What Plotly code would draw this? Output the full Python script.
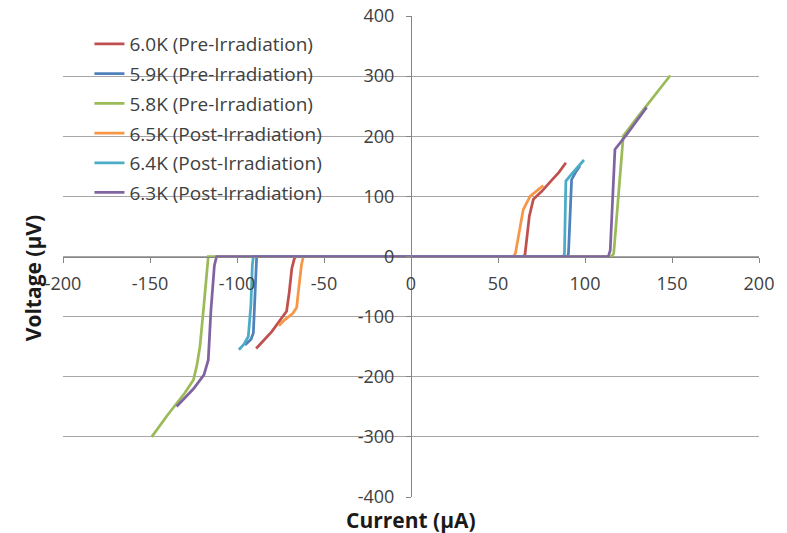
import plotly.graph_objects as go

# Series labels and colours (Excel-style palette)
series_names = [
    "6.0K (Pre-Irradiation)",
    "5.9K (Pre-Irradiation)",
    "5.8K (Pre-Irradiation)",
    "6.5K (Post-Irradiation)",
    "6.4K (Post-Irradiation)",
    "6.3K (Post-Irradiation)",
]
series_colors = ["#C0504D", "#4F81BD", "#9BBB59", "#F79646", "#4BACC6", "#8064A2"]

# Current (µA) / Voltage (µV) sweeps
current_60 = [-89, -80, -71.5, -70, -68.5, -67, -66, 0, 64.5, 65.5, 68, 70.3, 75, 80, 85, 89]
voltage_60 = [-153, -125, -91, -60, -20, -3, 0, 0, 0, 3, 67, 95, 108, 124, 140, 156]

current_59 = [-95.4, -92, -90.6, -89.5, -89, -88.7, 0, 89.9, 90.5, 92.3, 95, 97.1]
voltage_59 = [-147, -138, -127, -60, -10, 0, 0, 0, 5, 128, 142, 150.5]

current_58 = [-149, -140, -130, -125, -123, -121.3, -119, -117, -116.5, 0, 115.3, 116.5, 119, 122, 130, 140, 149]
voltage_58 = [-300, -264, -227, -205, -180, -150, -80, -10, 0, 0, 0, 5, 90, 200.5, 231, 267, 301]

current_65 = [-76, -72.4, -68, -65.7, -64.8, -63, -61.9, 0, 58.8, 60, 62.5, 64.5, 68.4, 74, 76]
voltage_65 = [-115, -105, -95, -85, -60, -15, 0, 0, 0, 5, 45, 78, 100, 114, 118]

current_64 = [-98.9, -96, -93.5, -92, -91.2, -90.6, 0, 87.6, 88.2, 89, 92, 96.2, 99.4]
voltage_64 = [-155, -146, -133, -80, -15, 0, 0, 0, 5, 125.5, 136, 150.5, 160.5]

current_63 = [-134.7, -125, -119, -116.5, -115, -113, -111.7, 0, 113.4, 114.5, 117.2, 124, 130, 135.4]
voltage_63 = [-249.5, -220, -197, -172, -90, -15, 0, 0, 0, 10, 178, 203, 226, 248]

currents = [current_60, current_59, current_58, current_65, current_64, current_63]
voltages = [voltage_60, voltage_59, voltage_58, voltage_65, voltage_64, voltage_63]

x_ticks = [-200, -150, -100, -50, 0, 50, 100, 150, 200]
y_ticks = [-400, -300, -200, -100, 0, 100, 200, 300, 400]

FONT = "Open Sans"
AXIS_GREY = "#868686"
TEXT_GREY = "#404040"
TITLE_COLOR = "#1a1a1a"

fig = go.Figure()
for i, (name, color, xs, ys) in enumerate(zip(series_names, series_colors, currents, voltages)):
    fig.add_trace(go.Scatter(
        x=xs, y=ys, mode="lines", name=name, legendgroup=f"g{i}",
        line=dict(color=color, width=2.75),
    ))

fig.update_layout(
    width=787, height=533,
    margin=dict(l=63, r=28, t=16, b=36),
    paper_bgcolor="white", plot_bgcolor="white",
    font=dict(family=FONT, color=TEXT_GREY),
    showlegend=True,
    legend=dict(
        x=0.038, y=0.981, xanchor="left", yanchor="top",
        bgcolor="rgba(0,0,0,0)",
        font=dict(family=FONT, size=19, color="#404040"),
        traceorder="grouped", tracegroupgap=2,
    ),
    xaxis=dict(
        range=[-200, 200], domain=[0, 1],
        anchor="free", position=0.5, automargin=False,
        tickvals=x_ticks, ticktext=[str(v) for v in x_ticks],
        showgrid=False, zeroline=False,
        showline=True, linecolor=AXIS_GREY, linewidth=1,
        ticks="outside", ticklen=5, tickcolor=AXIS_GREY,
        tickfont=dict(family=FONT, size=18, color=TEXT_GREY),
        ticklabelstandoff=6,
    ),
    yaxis=dict(
        range=[-400, 400], domain=[0, 1],
        anchor="free", position=0.5, automargin=False,
        tickvals=y_ticks, ticktext=[str(v) for v in y_ticks],
        showgrid=True, gridcolor="#a6a6a6", gridwidth=1,
        zeroline=False,
        showline=True, linecolor=AXIS_GREY, linewidth=1,
        ticks="outside", ticklen=5, tickcolor=AXIS_GREY,
        tickfont=dict(family=FONT, size=18, color=TEXT_GREY),
        ticklabelstandoff=8,
    ),
    annotations=[
        dict(text="<b>Current (µA)</b>", x=0.5, y=-0.048, xref="paper", yref="paper",
             xanchor="center", yanchor="middle", showarrow=False,
             font=dict(family=FONT, size=21, color=TITLE_COLOR)),
        dict(text="<b>Voltage (µV)</b>", x=-0.043, y=0.455, xref="paper", yref="paper",
             xanchor="center", yanchor="middle", showarrow=False, textangle=-90,
             font=dict(family=FONT, size=21, color=TITLE_COLOR)),
    ],
)

fig.write_html("out.html")
